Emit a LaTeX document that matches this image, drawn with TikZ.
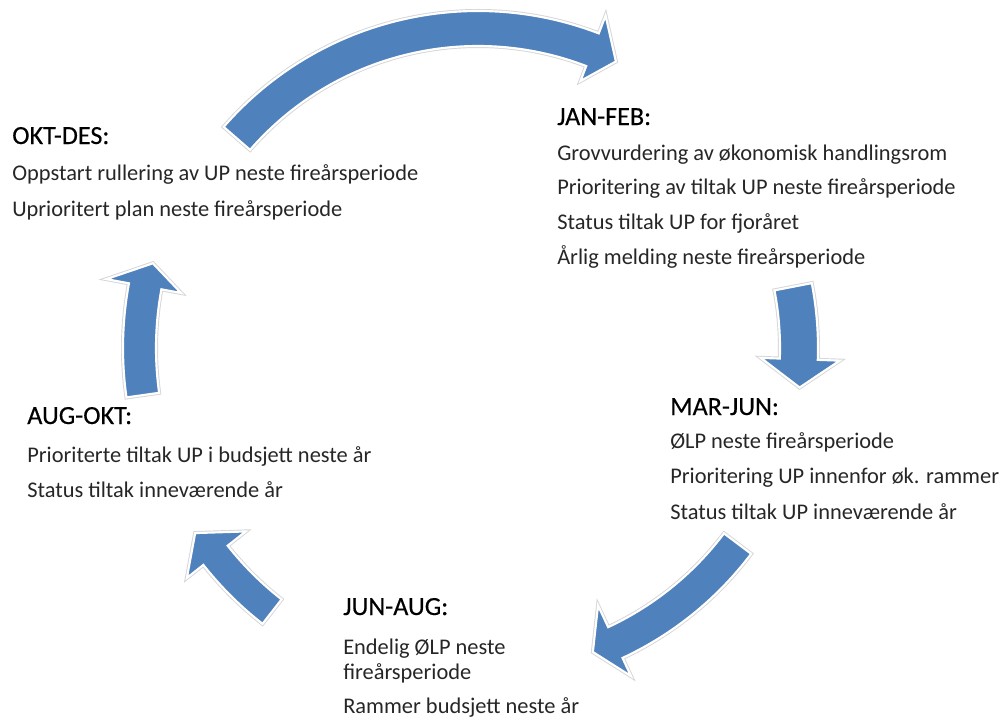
\documentclass[tikz,border=0pt]{standalone}
\usepackage{fontspec}
\setmainfont{Carlito}
\newfontfamily\headfont[FakeBold=0.35]{Carlito}
\definecolor{arrowblue}{RGB}{79,129,189}
\definecolor{txt}{RGB}{38,38,38}
\tikzset{
  cyc/.style={fill=arrowblue, draw=white, line width=1.6pt, line join=miter,
    preaction={draw=black!16, line width=3pt}},
  head/.style={anchor=base west, inner sep=0pt, text=black, font=\headfont\fontsize{19.6}{24}\selectfont},
  item/.style={anchor=base west, inner sep=0pt, text=txt, font=\fontsize{16.8}{20}\selectfont},
}
\begin{document}
\begin{tikzpicture}[x=0.75pt,y=0.75pt]
\useasboundingbox (0,0) rectangle (1001,-718);
\begin{scope}[shift={(478,-348)}]
% top arrow
\path[cyc] (139:337) arc[start angle=139,end angle=69,radius=337] -- (69:356) -- (64.3:318) -- (69:286) -- (69:302) arc[start angle=69,end angle=139,radius=302] -- cycle;
% right arrow
\path[cyc] (11:340) arc[start angle=11,end angle=-2,radius=340] -- (-2:362) -- (-7:324) -- (-2:283) -- (-2:302) arc[start angle=-2,end angle=11,radius=302] -- cycle;
% bottom right arrow
\path[cyc] (-37:342) arc[start angle=-37,end angle=-65,radius=342] -- (-65:362) -- (-69.3:325) -- (-65:284) -- (-65:308) arc[start angle=-65,end angle=-37,radius=308] -- cycle;
% bottom left arrow
\path[cyc] (232:350) arc[start angle=232,end angle=218.3,radius=350] -- (218.3:371) -- (213.2:338) -- (218.3:296) -- (218.3:319) arc[start angle=218.3,end angle=232,radius=319] -- cycle;
% left arrow
\path[cyc] (188:355) arc[start angle=188,end angle=169.5,radius=355] -- (169.5:378) -- (165.4:336) -- (169.5:302) -- (169.5:322) arc[start angle=169.5,end angle=188,radius=322] -- cycle;
\end{scope}

% OKT-DES
\node[head] (okt) at (12,-144) {OKT-DES:};
\node[item] (okt1) at (12,-180) {Oppstart rullering av UP neste fireårsperiode};
\node[item] (okt2) at (12,-216) {Uprioritert plan neste fireårsperiode};
% JAN-FEB
\node[head] (jan) at (557,-125) {JAN-FEB:};
\node[item] (jan1) at (557,-160) {Grovvurdering av økonomisk handlingsrom};
\node[item] (jan2) at (557,-194) {Prioritering av tiltak UP neste fireårsperiode};
\node[item] (jan3) at (557,-229) {Status tiltak UP for fjoråret};
\node[item] (jan4) at (557,-264) {Årlig melding neste fireårsperiode};
% MAR-JUN
\node[head] (mar) at (670,-415) {MAR-JUN:};
\node[item] (mar1) at (670,-448) {ØLP neste fireårsperiode};
\node[item] (mar2) at (670,-483) {Prioritering UP innenfor øk. rammer};
\node[item] (mar3) at (670,-519) {Status tiltak UP inneværende år};
% AUG-OKT
\node[head] (aug) at (27,-424) {AUG-OKT:};
\node[item] (aug1) at (27,-462) {Prioriterte tiltak UP i budsjett neste år};
\node[item] (aug2) at (27,-497) {Status tiltak inneværende år};
% JUN-AUG
\node[head] (jun) at (343,-615) {JUN-AUG:};
\node[item] (jun1) at (343,-654) {Endelig ØLP neste};
\node[item] (jun2) at (343,-679) {fireårsperiode};
\node[item] (jun3) at (343,-713) {Rammer budsjett neste år};
\end{tikzpicture}
\end{document}
